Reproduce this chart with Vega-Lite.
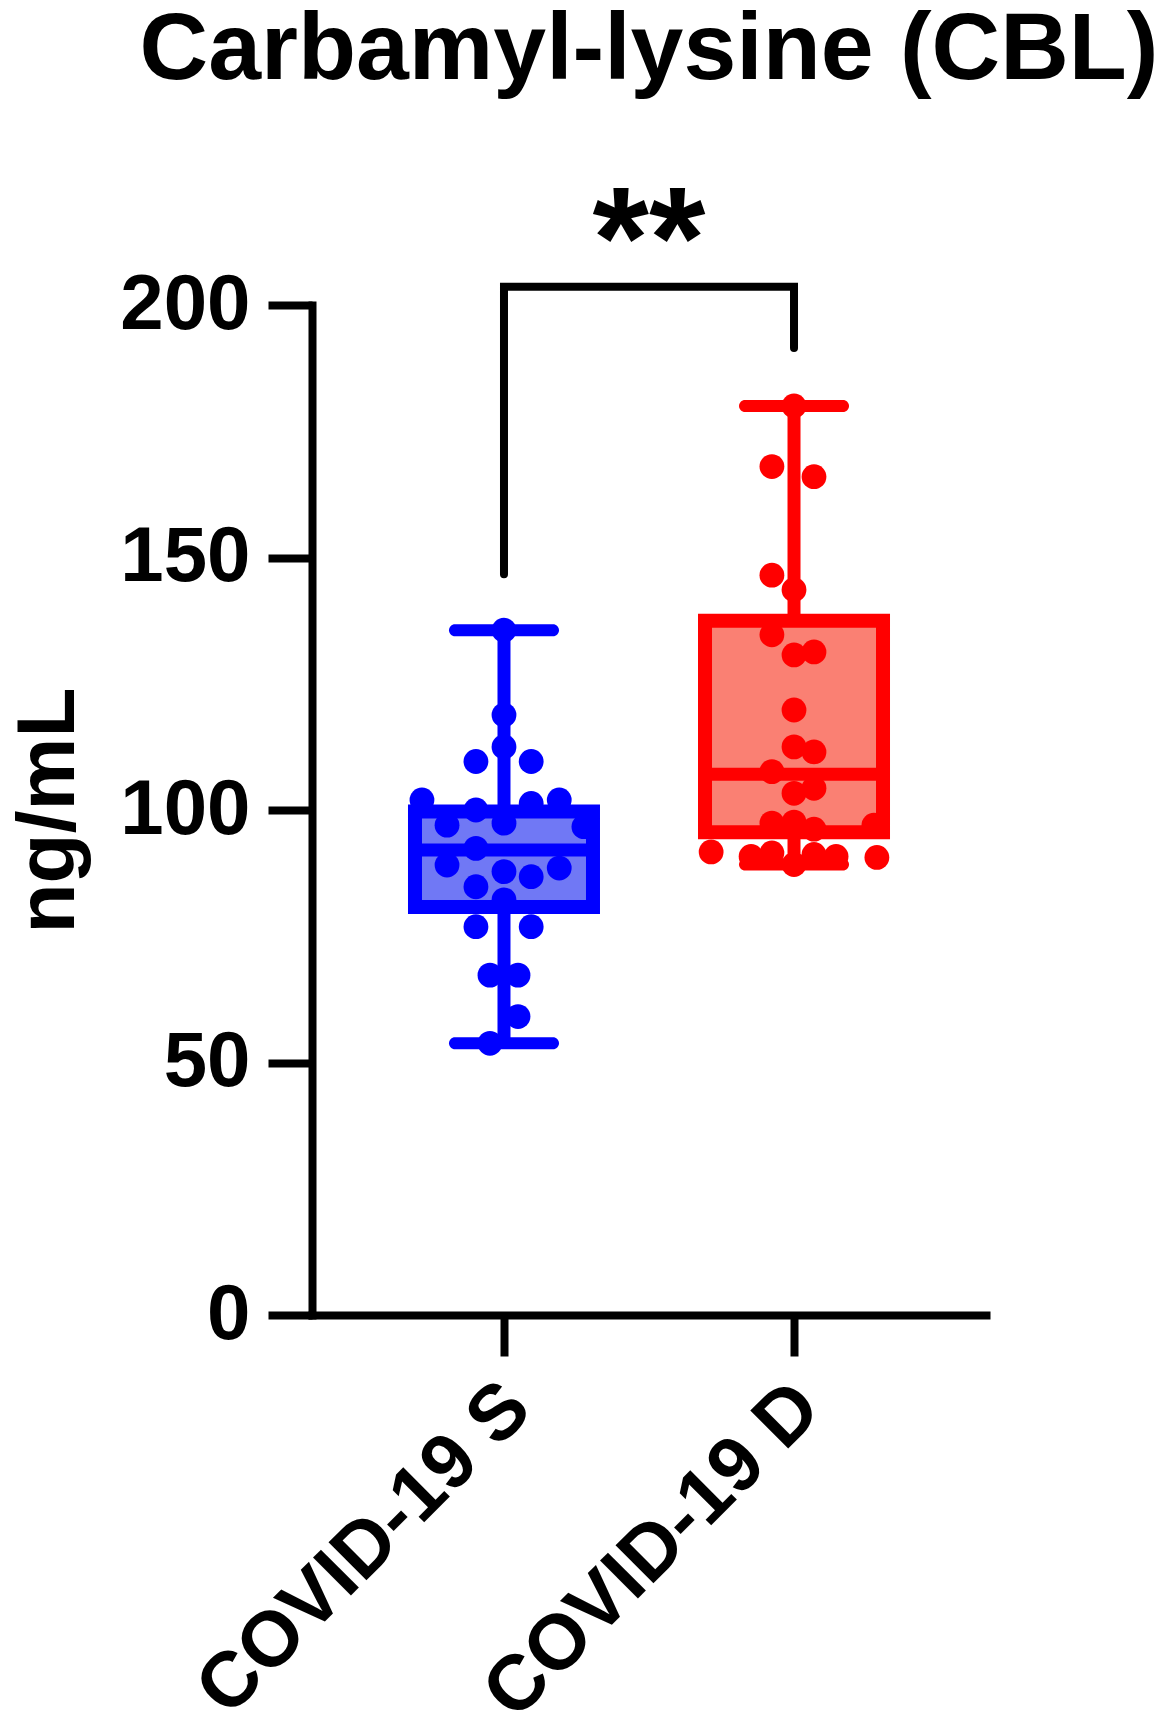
{
  "$schema": "https://vega.github.io/schema/vega-lite/v6.json",
  "autosize": "none",
  "width": 674,
  "height": 1010,
  "padding": {"left": 312, "top": 305, "right": 181, "bottom": 416},
  "background": "white",
  "config": {
    "view": {"stroke": null},
    "font": "Liberation Sans",
    "axisY": {
      "titleFont": "Liberation Sans",
      "titleFontSize": 82,
      "titleFontWeight": "bold",
      "titleColor": "black",
      "titlePadding": 29,
      "labelFont": "Liberation Sans",
      "labelFontSize": 78,
      "labelFontWeight": "bold",
      "labelColor": "black",
      "labelPadding": 18,
      "tickSize": 44,
      "tickWidth": 8,
      "tickColor": "black",
      "domainWidth": 8,
      "domainColor": "black",
      "domainCap": "square",
      "grid": false
    },
    "axisX": {
      "labelAngle": -45,
      "labelFont": "Liberation Sans",
      "labelFontSize": 78,
      "labelFontWeight": "bold",
      "labelColor": "black",
      "labelPadding": 12,
      "labelOffset": -14,
      "labelLimit": 2000,
      "tickSize": 41,
      "tickWidth": 8,
      "tickColor": "black",
      "domainWidth": 8,
      "domainColor": "black",
      "domainCap": "square",
      "grid": false
    }
  },
  "title": {
    "text": "Carbamyl-lysine (CBL)",
    "font": "Liberation Sans",
    "fontSize": 95,
    "fontWeight": "bold",
    "color": "black",
    "anchor": "middle",
    "frame": "group",
    "baseline": "alphabetic",
    "offset": -2
  },
  "datasets": {
    "pts": [
      {"group": "COVID-19 S", "ng_mL": 135.6, "jitter": 0},
      {"group": "COVID-19 S", "ng_mL": 118.8, "jitter": 0},
      {"group": "COVID-19 S", "ng_mL": 112.5, "jitter": 0},
      {"group": "COVID-19 S", "ng_mL": 109.6, "jitter": -0.33},
      {"group": "COVID-19 S", "ng_mL": 109.6, "jitter": 0.32},
      {"group": "COVID-19 S", "ng_mL": 102.0, "jitter": -0.965},
      {"group": "COVID-19 S", "ng_mL": 102.0, "jitter": 0.65},
      {"group": "COVID-19 S", "ng_mL": 100.0, "jitter": -0.33},
      {"group": "COVID-19 S", "ng_mL": 101.3, "jitter": 0.32},
      {"group": "COVID-19 S", "ng_mL": 97.0, "jitter": -0.67},
      {"group": "COVID-19 S", "ng_mL": 97.4, "jitter": 0},
      {"group": "COVID-19 S", "ng_mL": 96.7, "jitter": 0.94},
      {"group": "COVID-19 S", "ng_mL": 92.4, "jitter": -0.33},
      {"group": "COVID-19 S", "ng_mL": 89.1, "jitter": -0.67},
      {"group": "COVID-19 S", "ng_mL": 87.8, "jitter": 0},
      {"group": "COVID-19 S", "ng_mL": 86.8, "jitter": 0.32},
      {"group": "COVID-19 S", "ng_mL": 88.5, "jitter": 0.65},
      {"group": "COVID-19 S", "ng_mL": 84.8, "jitter": -0.33},
      {"group": "COVID-19 S", "ng_mL": 82.2, "jitter": 0},
      {"group": "COVID-19 S", "ng_mL": 76.9, "jitter": -0.33},
      {"group": "COVID-19 S", "ng_mL": 76.9, "jitter": 0.32},
      {"group": "COVID-19 S", "ng_mL": 67.3, "jitter": -0.165},
      {"group": "COVID-19 S", "ng_mL": 67.3, "jitter": 0.165},
      {"group": "COVID-19 S", "ng_mL": 59.1, "jitter": 0.165},
      {"group": "COVID-19 S", "ng_mL": 53.8, "jitter": -0.165},
      {"group": "COVID-19 D", "ng_mL": 180.0, "jitter": 0},
      {"group": "COVID-19 D", "ng_mL": 168.0, "jitter": -0.26},
      {"group": "COVID-19 D", "ng_mL": 166.0, "jitter": 0.235},
      {"group": "COVID-19 D", "ng_mL": 146.5, "jitter": -0.26},
      {"group": "COVID-19 D", "ng_mL": 143.6, "jitter": 0},
      {"group": "COVID-19 D", "ng_mL": 134.7, "jitter": -0.26},
      {"group": "COVID-19 D", "ng_mL": 130.7, "jitter": 0},
      {"group": "COVID-19 D", "ng_mL": 131.3, "jitter": 0.235},
      {"group": "COVID-19 D", "ng_mL": 119.8, "jitter": 0},
      {"group": "COVID-19 D", "ng_mL": 112.5, "jitter": 0},
      {"group": "COVID-19 D", "ng_mL": 111.5, "jitter": 0.235},
      {"group": "COVID-19 D", "ng_mL": 107.6, "jitter": -0.26},
      {"group": "COVID-19 D", "ng_mL": 103.3, "jitter": 0},
      {"group": "COVID-19 D", "ng_mL": 104.3, "jitter": 0.235},
      {"group": "COVID-19 D", "ng_mL": 97.4, "jitter": -0.26},
      {"group": "COVID-19 D", "ng_mL": 97.6, "jitter": 0},
      {"group": "COVID-19 D", "ng_mL": 96.2, "jitter": 0.235},
      {"group": "COVID-19 D", "ng_mL": 97.0, "jitter": 0.94},
      {"group": "COVID-19 D", "ng_mL": 91.7, "jitter": -0.975},
      {"group": "COVID-19 D", "ng_mL": 90.8, "jitter": -0.505},
      {"group": "COVID-19 D", "ng_mL": 91.5, "jitter": -0.26},
      {"group": "COVID-19 D", "ng_mL": 89.2, "jitter": 0},
      {"group": "COVID-19 D", "ng_mL": 91.2, "jitter": 0.235},
      {"group": "COVID-19 D", "ng_mL": 90.8, "jitter": 0.495},
      {"group": "COVID-19 D", "ng_mL": 90.6, "jitter": 0.975}
    ],
    "box": [
      {"group": "COVID-19 S", "min": 53.8, "q1": 80.8, "median": 92.1, "q3": 99.7, "max": 135.6},
      {"group": "COVID-19 D", "min": 89.2, "q1": 95.6, "median": 107.1, "q3": 137.5, "max": 180.0}
    ],
    "bracket": [
      {"group": "COVID-19 S", "y": 146.7, "step": 1},
      {"group": "COVID-19 S", "y": 203.6, "step": 2},
      {"group": "COVID-19 D", "y": 203.6, "step": 3},
      {"group": "COVID-19 D", "y": 191.5, "step": 4}
    ],
    "sig": [
      {"group": "S vs D", "y": 203.4, "label": "**"}
    ]
  },
  "layer": [
    {
      "data": {"name": "box"},
      "mark": {"type": "rule", "strokeWidth": 13},
      "encoding": {
        "x": {
          "field": "group", "type": "nominal", "title": null,
          "scale": {"type": "point", "domain": ["left", "COVID-19 S", "S vs D", "COVID-19 D", "right"], "padding": 0.324},
          "axis": {"values": ["COVID-19 S", "COVID-19 D"]}
        },
        "y": {
          "field": "min", "type": "quantitative", "title": "ng/mL",
          "scale": {"domain": [0, 200], "nice": false},
          "axis": {"values": [0, 50, 100, 150, 200]}
        },
        "y2": {"field": "max"},
        "color": {
          "field": "group", "type": "nominal",
          "scale": {"domain": ["COVID-19 S", "COVID-19 D"], "range": ["#0000FF", "#FF0000"]},
          "legend": null
        }
      }
    },
    {
      "data": {"name": "box"},
      "mark": {"type": "bar", "size": 178, "strokeWidth": 14},
      "encoding": {
        "x": {"field": "group", "type": "nominal", "title": null, "axis": {"values": ["COVID-19 S", "COVID-19 D"]}},
        "y": {"field": "q1", "type": "quantitative", "title": "ng/mL", "axis": {"values": [0, 50, 100, 150, 200]}},
        "y2": {"field": "q3"},
        "fill": {
          "field": "group", "type": "nominal",
          "scale": {"domain": ["COVID-19 S", "COVID-19 D"], "range": ["#7078F5", "#FA8073"]},
          "legend": null
        },
        "stroke": {
          "field": "group", "type": "nominal",
          "scale": {"domain": ["COVID-19 S", "COVID-19 D"], "range": ["#0000FF", "#FF0000"]},
          "legend": null
        }
      }
    },
    {
      "data": {"name": "box"},
      "mark": {"type": "tick", "size": 186, "thickness": 13, "opacity": 1},
      "encoding": {
        "x": {"field": "group", "type": "nominal", "title": null, "axis": {"values": ["COVID-19 S", "COVID-19 D"]}},
        "y": {"field": "median", "type": "quantitative", "title": "ng/mL", "axis": {"values": [0, 50, 100, 150, 200]}},
        "color": {"field": "group", "type": "nominal", "legend": null}
      }
    },
    {
      "data": {"name": "box"},
      "mark": {"type": "tick", "size": 110, "thickness": 12, "opacity": 1, "cornerRadius": 6},
      "encoding": {
        "x": {"field": "group", "type": "nominal", "title": null, "axis": {"values": ["COVID-19 S", "COVID-19 D"]}},
        "y": {"field": "max", "type": "quantitative", "title": "ng/mL", "axis": {"values": [0, 50, 100, 150, 200]}},
        "color": {"field": "group", "type": "nominal", "legend": null}
      }
    },
    {
      "data": {"name": "box"},
      "mark": {"type": "tick", "size": 110, "thickness": 12, "opacity": 1, "cornerRadius": 6},
      "encoding": {
        "x": {"field": "group", "type": "nominal", "title": null, "axis": {"values": ["COVID-19 S", "COVID-19 D"]}},
        "y": {"field": "min", "type": "quantitative", "title": "ng/mL", "axis": {"values": [0, 50, 100, 150, 200]}},
        "color": {"field": "group", "type": "nominal", "legend": null}
      }
    },
    {
      "data": {"name": "pts"},
      "mark": {"type": "circle", "size": 615, "opacity": 1},
      "encoding": {
        "x": {"field": "group", "type": "nominal", "title": null, "axis": {"values": ["COVID-19 S", "COVID-19 D"]}},
        "xOffset": {"field": "jitter", "type": "quantitative", "scale": {"domain": [-1, 1], "range": [-85, 85]}},
        "y": {"field": "ng_mL", "type": "quantitative", "title": "ng/mL", "axis": {"values": [0, 50, 100, 150, 200]}},
        "color": {"field": "group", "type": "nominal", "legend": null}
      }
    },
    {
      "data": {"name": "bracket"},
      "mark": {"type": "line", "color": "black", "strokeWidth": 8, "strokeJoin": "miter", "strokeCap": "round"},
      "encoding": {
        "x": {"field": "group", "type": "nominal", "title": null, "axis": {"values": ["COVID-19 S", "COVID-19 D"]}},
        "y": {"field": "y", "type": "quantitative", "title": "ng/mL", "axis": {"values": [0, 50, 100, 150, 200]}},
        "order": {"field": "step", "type": "quantitative"}
      }
    },
    {
      "data": {"name": "sig"},
      "mark": {"type": "text", "font": "Liberation Sans", "fontWeight": "bold", "fontSize": 145, "baseline": "alphabetic", "align": "center", "color": "black"},
      "encoding": {
        "x": {"field": "group", "type": "nominal", "title": null, "axis": {"values": ["COVID-19 S", "COVID-19 D"]}},
        "y": {"field": "y", "type": "quantitative", "title": "ng/mL", "axis": {"values": [0, 50, 100, 150, 200]}},
        "text": {"field": "label"}
      }
    }
  ]
}
